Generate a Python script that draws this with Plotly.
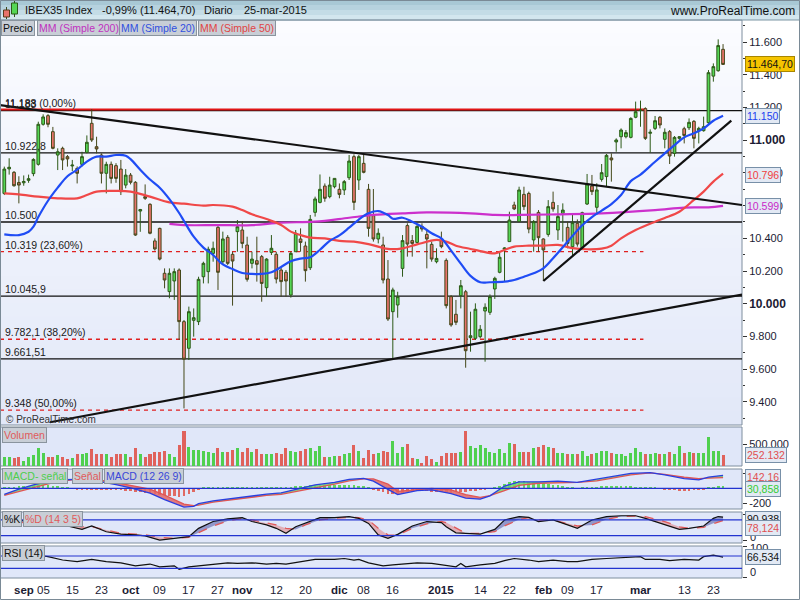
import plotly.graph_objects as go
import pandas as pd

# ---------------- calendar (trading days, BME holidays removed) ----------------
HOLIDAYS = ["2014-12-25", "2014-12-26", "2015-01-01"]
all_days = [d.strftime("%Y-%m-%d") for d in pd.bdate_range("2014-08-26", "2015-03-25")]
dates = [d for d in all_days if d not in HOLIDAYS]

# ---------------- OHLC ----------------
open_ = [
    10675, 10825, 10804, 10742, 10740, 10755, 10796, 10853, 11098, 11151,
    11053, 10910, 10951, 10900, 10843, 10828, 10853, 10926, 11104, 10961,
    10910, 10798, 10853, 10845, 10824, 10726, 10787, 10743, 10567, 10655,
    10608, 10384, 10461, 10186, 10074, 10139, 10206, 9890, 9727, 9898,
    9890, 10165, 10196, 10308, 10467, 10257, 10406, 10302, 10441, 10451,
    10359, 10247, 10263, 10288, 10098, 10314, 10302, 10206, 10192, 10053,
    10318, 10396, 10353, 10220, 10559, 10620, 10720, 10655, 10716, 10700,
    10696, 10771, 10900, 10757, 10859, 10700, 10539, 10396, 10359, 10151,
    9951, 9992, 10216, 10478, 10386, 10375, 10473, 10424, 10363, 10257,
    10386, 10265, 10043, 9935, 10049, 10073, 9792, 9788, 9798, 9955,
    9947, 10090, 10192, 10333, 10380, 10604, 10502, 10669, 10675, 10390,
    10559, 10396, 10424, 10620, 10451, 10553, 10467, 10349, 10492, 10339,
    10610, 10720, 10590, 10761, 10778, 10892, 10990, 11022, 11022, 11018,
    11141, 11183, 11194, 11043, 11073, 11141, 11006, 11053, 10920, 11012,
    11071, 11077, 11116, 11059, 11059, 11108, 11393, 11426, 11557]
high = [
    10839, 10890, 10812, 10780, 10785, 10790, 10890, 11114, 11159, 11160,
    11082, 10951, 10961, 10910, 10880, 10840, 10930, 11030, 11191, 11022,
    10920, 10869, 10870, 10860, 10880, 10824, 10800, 10750, 10580, 10730,
    10615, 10400, 10465, 10216, 10216, 10216, 10216, 9900, 9982, 9971,
    10165, 10257, 10349, 10380, 10481, 10441, 10420, 10318, 10512, 10506,
    10410, 10318, 10410, 10298, 10278, 10420, 10318, 10226, 10206, 10318,
    10451, 10461, 10380, 10543, 10655, 10791, 10736, 10777, 10767, 10736,
    10757, 10910, 10914, 10910, 10910, 10733, 10702, 10461, 10410, 10267,
    10098, 10073, 10420, 10492, 10420, 10481, 10492, 10451, 10380, 10339,
    10441, 10277, 10053, 10023, 10145, 10084, 9951, 10002, 9869, 10002,
    10057, 10165, 10318, 10345, 10563, 10624, 10716, 10716, 10686, 10512,
    10573, 10400, 10634, 10686, 10604, 10614, 10502, 10543, 10516, 10563,
    10794, 10788, 10737, 10855, 10916, 10920, 11012, 11073, 11063, 11141,
    11237, 11243, 11202, 11067, 11149, 11149, 11073, 11063, 11026, 11026,
    11083, 11134, 11124, 11083, 11145, 11430, 11471, 11618, 11589]
low = [
    10665, 10790, 10716, 10614, 10722, 10740, 10780, 10845, 11090, 11080,
    10945, 10818, 10818, 10839, 10812, 10736, 10840, 10920, 10990, 10920,
    10736, 10675, 10736, 10740, 10665, 10706, 10730, 10415, 10440, 10635,
    10425, 10325, 10265, 10094, 10033, 10023, 9778, 9359, 9655, 9798,
    9869, 10124, 10124, 10257, 10084, 10237, 10237, 9988, 10318, 10339,
    10135, 10216, 10135, 10012, 10043, 10298, 10124, 10043, 10043, 10037,
    10318, 10318, 10135, 10206, 10533, 10614, 10624, 10645, 10706, 10645,
    10665, 10757, 10573, 10696, 10798, 10410, 10380, 10369, 10124, 9894,
    9666, 9914, 10165, 10288, 10288, 10369, 10441, 10216, 10257, 10247,
    10339, 9971, 9859, 9869, 9971, 9608, 9706, 9778, 9788, 9645,
    9931, 10029, 10186, 10135, 10380, 10573, 10502, 10573, 10431, 10318,
    10318, 10139, 10410, 10563, 10390, 10380, 10339, 10288, 10349, 10329,
    10604, 10665, 10543, 10747, 10716, 10747, 10930, 10951, 11012, 11012,
    11135, 11083, 11002, 10924, 11063, 11073, 10951, 10855, 10900, 11002,
    10981, 11063, 10951, 10981, 11053, 11094, 11359, 11420, 11461]
close = [
    10824, 10835, 10722, 10726, 10748, 10765, 10883, 11098, 11143, 11098,
    10951, 10930, 10880, 10886, 10848, 10798, 10900, 10988, 11002, 10947,
    10798, 10853, 10767, 10767, 10686, 10787, 10743, 10420, 10576, 10645,
    10431, 10335, 10273, 10145, 10186, 10196, 9890, 9660, 9951, 9914,
    10149, 10247, 10333, 10339, 10192, 10396, 10247, 10261, 10471, 10369,
    10149, 10273, 10241, 10124, 10273, 10339, 10151, 10135, 10139, 10308,
    10431, 10375, 10202, 10516, 10641, 10700, 10645, 10726, 10767, 10669,
    10747, 10873, 10620, 10900, 10804, 10461, 10396, 10431, 10145, 9906,
    10084, 10043, 10386, 10365, 10369, 10473, 10457, 10396, 10273, 10277,
    10349, 9988, 9870, 9886, 10110, 9712, 9804, 9966, 9843, 9978,
    10043, 10155, 10284, 10341, 10512, 10580, 10696, 10594, 10457, 10502,
    10404, 10329, 10594, 10580, 10533, 10573, 10369, 10496, 10365, 10557,
    10733, 10686, 10696, 10802, 10908, 10880, 11002, 11063, 11047, 11134,
    11175, 11185, 11012, 11049, 11120, 11094, 11049, 10904, 11018, 11022,
    11030, 11110, 11012, 11073, 11083, 11414, 11451, 11580, 11464.7]

# volume in thousands
volume_k = [
    212, 212, 175, 212, 114, 197, 250, 417, 288, 197,
    212, 250, 197, 152, 174, 265, 265, 288, 379, 265,
    265, 265, 212, 265, 265, 265, 212, 417, 265, 212,
    265, 326, 326, 341, 265, 212, 477, 795, 439, 364,
    364, 341, 311, 288, 401, 311, 326, 364, 417, 311,
    401, 326, 379, 265, 265, 265, 288, 265, 401, 341,
    326, 348, 379, 417, 341, 455, 212, 212, 227, 227,
    265, 288, 477, 341, 189, 364, 265, 288, 348, 326,
    568, 300, 439, 500, 174, 152, 61, 227, 152, 83,
    227, 288, 288, 288, 311, 795, 455, 401, 477, 401,
    326, 288, 379, 288, 515, 492, 311, 326, 326, 401,
    439, 477, 439, 401, 288, 288, 265, 265, 265, 341,
    227, 265, 288, 341, 341, 288, 265, 265, 227, 288,
    417, 326, 265, 265, 288, 265, 265, 311, 265, 455,
    288, 311, 288, 288, 288, 652, 341, 341, 252.132]

# MACD histogram (MACD - signal), per bar
macd_hist = [
    5, 10, 18, 25, 30, 35, 40, 45, 45, 40,
    32, 25, 15, 8, -5, -10, -12, -12, -15, -15,
    -18, -20, -22, -25, -28, -32, -38, -45, -52, -58,
    -66, -75, -85, -95, -102, -108, -111, -100, -75, -45,
    -15, 5, 10, 12, 14, 15, 15, 15, 14, 13,
    12, 12, 12, 12, 12, 14, 15, 16, 18, 22,
    26, 30, 34, 38, 42, 45, 48, 50, 50, 50,
    48, 45, 40, 35, 28, 15, -10, -30, -50, -70,
    -80, -80, -70, -55, -45, -40, -40, -42, -45, -50,
    -55, -58, -58, -55, -50, -45, -38, -30, -22, -15,
    -8, 10, 30, 55, 80, 95, 98, 95, 90, 80,
    70, 65, 60, 50, 40, 30, 15, 5, -5, 8,
    15, 20, 22, 25, 28, 30, 30, 30, 28, 25,
    22, 20, 15, 10, 5, -5, -12, -20, -28, -31,
    -31, -30, -28, -20, -10, 5, 15, 25, 30.858]

# MACD / signal lines (sampled bars)
macd_x = [0, 3, 6, 9, 12, 15, 18, 21, 23, 26,
          30, 33, 36, 37, 39, 40, 43, 47, 50, 54,
          57, 60, 64, 68, 71, 74, 76, 79, 81, 85,
          88, 92, 95, 98, 100, 103, 106, 110, 114, 118,
          122, 126, 129, 133, 136, 140, 143, 145, 148]
macd_line = [-80, -10, 45, 90, 115, 120, 110, 80, 50, 5,
             -65, -150, -230, -250, -240, -205, -168, -135, -105, -78,
             -60, -15, 44, 80, 120, 133, 95, -15, -85, -30,
             -22, -70, -130, -145, -100, 30, 85, 85, 95, 78,
             118, 160, 198, 208, 180, 130, 112, 150, 173]
signal_line = [-95, -40, 15, 60, 95, 122, 115, 100, 75, 40,
               -10, -90, -180, -210, -230, -225, -185, -150, -125, -95,
               -80, -45, 10, 55, 100, 125, 125, 55, -40, -13,
               0, -20, -85, -120, -98, -30, 40, 67, 75, 80,
               100, 145, 180, 205, 186, 150, 128, 135, 142.16]

# Stochastic %K / %D (sampled bars)
stoch_x = [0, 3, 6, 9, 12, 13, 16, 18, 21, 24,
           27, 29, 32, 35, 38, 40, 43, 46, 49, 51,
           54, 56, 58, 60, 62, 65, 68, 71, 73, 75,
           77, 79, 81, 84, 87, 90, 91, 93, 95, 98,
           101, 103, 106, 108, 110, 113, 116, 118, 121, 124,
           127, 130, 132, 136, 139, 141, 144, 146, 147, 148]
stoch_k = [60, 75, 85, 80, 60, 57, 44, 57, 35, 26,
           23, 19, 3, 10, 16, 48, 74, 84, 89, 74,
           61, 48, 29, 54, 67, 89, 89, 93, 86, 67,
           23, 10, 25, 57, 74, 70, 54, 31, 29, 26,
           44, 80, 93, 90, 74, 80, 61, 48, 80, 93,
           96, 96, 86, 61, 44, 48, 57, 86, 93, 90.9]
stoch_d = [55, 68, 80, 82, 65, 61, 54, 54, 42, 29,
           26, 23, 14, 10, 14, 31, 57, 76, 86, 80,
           67, 61, 48, 44, 61, 80, 86, 90, 89, 80,
           48, 23, 22, 48, 65, 74, 70, 48, 29, 29,
           35, 57, 82, 89, 80, 80, 67, 57, 61, 82,
           93, 95, 93, 74, 54, 48, 52, 67, 72, 78.124]

# RSI(14) (sampled bars)
rsi_x = [0, 4, 8, 9, 12, 15, 18, 21, 24, 27,
         30, 32, 35, 36, 38, 42, 46, 48, 51, 54,
         56, 58, 61, 64, 68, 70, 72, 73, 75, 78,
         80, 82, 85, 88, 92, 93, 94, 95, 98, 101,
         103, 105, 108, 110, 113, 116, 118, 121, 124, 128,
         131, 132, 135, 137, 140, 143, 144, 146, 147, 148]
rsi_vals = [57, 57, 70, 68, 57, 52, 59, 52, 48, 38,
            44, 35, 38, 27, 35, 41, 48, 46, 48, 44,
            46, 44, 52, 59, 59, 62, 57, 59, 48, 38,
            41, 44, 48, 46, 38, 35, 46, 35, 41, 46,
            55, 62, 57, 52, 57, 52, 52, 59, 62, 66,
            68, 59, 59, 55, 59, 57, 68, 73, 70, 66.534]

# Moving averages (sampled bars)
ma20_x = [0, 3, 5, 6, 7, 9, 11, 13, 15, 17,
          19, 21, 23, 25, 26, 28, 30, 32, 34, 36,
          37, 39, 41, 43, 45, 47, 49, 51, 53, 55,
          57, 59, 61, 63, 65, 67, 69, 71, 73, 75,
          77, 79, 80, 82, 84, 86, 88, 90, 92, 94,
          96, 98, 100, 103, 105, 107, 109, 111, 113, 115,
          117, 119, 121, 123, 125, 127, 129, 131, 134, 136,
          138, 140, 142, 144, 146, 148]
ma20 = [10424, 10420, 10440, 10471, 10530, 10630, 10710, 10780, 10820, 10870,
        10900, 10900, 10910, 10906, 10885, 10820, 10760, 10710, 10640, 10555,
        10506, 10410, 10343, 10298, 10240, 10212, 10188, 10182, 10182, 10192,
        10225, 10260, 10276, 10284, 10330, 10385, 10418, 10465, 10515, 10553,
        10567, 10543, 10520, 10526, 10502, 10471, 10431, 10400, 10325, 10245,
        10170, 10131, 10131, 10135, 10145, 10165, 10186, 10216, 10278, 10345,
        10415, 10480, 10530, 10570, 10610, 10665, 10750, 10790, 10869, 10920,
        10971, 11018, 11043, 11073, 11120, 11150]
ma50_x = [0, 3, 7, 11, 15, 17, 19, 23, 26, 30,
          34, 37, 41, 43, 47, 49, 51, 54, 57, 59,
          61, 63, 66, 69, 72, 75, 79, 82, 85, 89,
          91, 93, 96, 98, 101, 103, 105, 108, 111, 114,
          117, 120, 123, 125, 127, 130, 134, 136, 139, 142,
          144, 146, 148]
ma50 = [10675, 10669, 10655, 10645, 10645, 10665, 10686, 10690, 10686, 10655,
        10620, 10612, 10600, 10604, 10594, 10573, 10547, 10518, 10482, 10441,
        10420, 10404, 10400, 10384, 10380, 10365, 10335, 10339, 10363, 10390,
        10380, 10355, 10335, 10322, 10308, 10329, 10349, 10355, 10355, 10360,
        10340, 10333, 10337, 10355, 10400, 10451, 10502, 10525, 10563, 10635,
        10686, 10747, 10796]
ma200_x = [34, 37, 44, 51, 57, 64, 71, 76, 82, 87, 96, 101, 106, 114, 123, 134, 140, 145, 148]
ma200 = [10488, 10481, 10481, 10481, 10496, 10502, 10526, 10543, 10553, 10559,
         10553, 10543, 10543, 10547, 10553, 10573, 10588, 10590, 10599]

# X tick labels
tick_dates = ["2014-09-01", "2014-09-05", "2014-09-15", "2014-09-23", "2014-10-01",
              "2014-10-09", "2014-10-17", "2014-10-27", "2014-11-03", "2014-11-12",
              "2014-11-20", "2014-12-01", "2014-12-08", "2014-12-16", "2015-01-02",
              "2015-01-14", "2015-01-22", "2015-02-02", "2015-02-09", "2015-02-17",
              "2015-03-02", "2015-03-13", "2015-03-23"]
tick_labels = ["<b>sep</b>", "05", "15", "23", "<b>oct</b>", "09", "17", "27", "<b>nov</b>",
               "12", "20", "<b>dic</b>", "08", "16", "<b>2015</b>", "14", "22", "<b>feb</b>",
               "09", "17", "<b>mar</b>", "13", "23"]

price_ticks = [9400, 9600, 9800, 10000, 10200, 10400, 10600, 10800, 11000, 11200, 11400, 11600]
price_tick_labels = ["9.400", "9.600", "9.800", "<b><span style='font-size:12px'>10.000</span></b>",
                     "10.200", "10.400", "10.600", "10.800",
                     "<b><span style='font-size:12px'>11.000</span></b>", "11.200", "11.400", "11.600"]

# Horizontal levels
black_levels = [11182, 10922.8, 10500, 10045.9, 9661.51]
fib_levels = [10319, 9782.1, 9348]
fib_top = 11188
level_label_prices = [11182, 11188, 10922.8, 10500, 10319, 10045.9, 9782.1, 9661.51, 9348]
level_label_texts = ["11.183", "11.188 (0,00%)", "10.922,8", "10.500", "10.319 (23,60%)",
                     "10.045,9", "9.782,1 (38,20%)", "9.661,51", "9.348 (50,00%)"]

# Trend lines (bar position, price)
trend_lines = [
    ((-0.886, 11216), (151.9, 10604)),
    ((9.41, 9274), (151.9, 10056)),
    ((111, 10139), (149.7, 11120)),
]

# ---------------- geometry helpers ----------------
PLOT_W = 742.0
TOP_PX, BOT_PX = 20.0, 578.0


def fx(px):
    return px / PLOT_W


def fy(py):
    return (BOT_PX - py) / (BOT_PX - TOP_PX)


def hexmix(c0, c1, t):
    a = [int(c0[i:i + 2], 16) for i in (1, 3, 5)]
    b = [int(c1[i:i + 2], 16) for i in (1, 3, 5)]
    return "#%02x%02x%02x" % tuple(int(round(a[k] + (b[k] - a[k]) * t)) for k in range(3))


def band_runs(xs, a, b):
    runs = []
    cur = None
    for k in range(len(xs)):
        s = a[k] >= b[k]
        if cur is None:
            cur = [s, [xs[k]], [a[k]], [b[k]]]
            continue
        if s != cur[0]:
            d0 = a[k - 1] - b[k - 1]
            d1 = a[k] - b[k]
            t = d0 / (d0 - d1)
            xc = xs[k - 1] + t * (xs[k] - xs[k - 1])
            yc = a[k - 1] + t * (a[k] - a[k - 1])
            cur[1].append(xc); cur[2].append(yc); cur[3].append(yc)
            runs.append(cur)
            cur = [s, [xc], [yc], [yc]]
        cur[1].append(xs[k]); cur[2].append(a[k]); cur[3].append(b[k])
    runs.append(cur)
    return runs


n = len(dates)
idx = list(range(n))
pos = {d: i for i, d in enumerate(dates)}

GREEN = "#55d655"
RED = "#e8736b"

fig = go.Figure()

# ---------------- main panel ----------------
fig.add_trace(go.Candlestick(
    x=idx, open=open_, high=high, low=low, close=close, xaxis="x", yaxis="y",
    increasing=dict(fillcolor=GREEN, line=dict(color="#2d5a18", width=1)),
    decreasing=dict(fillcolor=RED, line=dict(color="#44481a", width=1)),
    whiskerwidth=0, showlegend=False, hoverinfo="skip"))

fig.add_trace(go.Scatter(x=ma200_x, y=ma200, mode="lines", yaxis="y",
                         line=dict(color="#cc30cc", width=2.2, shape="spline"), hoverinfo="skip"))
fig.add_trace(go.Scatter(x=ma50_x, y=ma50, mode="lines", yaxis="y",
                         line=dict(color="#f04848", width=2.2, shape="spline"), hoverinfo="skip"))
fig.add_trace(go.Scatter(x=ma20_x, y=ma20, mode="lines", yaxis="y",
                         line=dict(color="#1f4cf5", width=2.2, shape="spline"), hoverinfo="skip"))

# ---------------- volume ----------------
vol_colors = ["#4fd04f" if c >= o else "#e0625c" for o, c in zip(open_, close)]
fig.add_trace(go.Bar(x=idx, y=volume_k, yaxis="y2", width=0.62,
                     marker=dict(color=vol_colors, line=dict(width=0)), hoverinfo="skip"))

# ---------------- MACD ----------------
hist_colors = ["#5fd85f" if v >= 0 else "#e06a64" for v in macd_hist]
fig.add_trace(go.Bar(x=idx, y=macd_hist, yaxis="y3", width=0.55,
                     marker=dict(color=hist_colors, line=dict(width=0)), hoverinfo="skip"))
for s, rx, ra, rb in band_runs(macd_x, macd_line, signal_line):
    fig.add_trace(go.Scatter(x=rx + rx[::-1], y=ra + rb[::-1], yaxis="y3", mode="lines",
                             fill="toself",
                             fillcolor="rgba(110,215,110,0.85)" if s else "rgba(225,105,105,0.85)",
                             line=dict(width=0), hoverinfo="skip"))
fig.add_trace(go.Scatter(x=macd_x, y=signal_line, yaxis="y3", mode="lines",
                         line=dict(color="#e05555", width=1.3), hoverinfo="skip"))
fig.add_trace(go.Scatter(x=macd_x, y=macd_line, yaxis="y3", mode="lines",
                         line=dict(color="#2a3ee0", width=1.3), hoverinfo="skip"))

# ---------------- Stochastic ----------------
for s, rx, ra, rb in band_runs(stoch_x, stoch_k, stoch_d):
    fig.add_trace(go.Scatter(x=rx + rx[::-1], y=ra + rb[::-1], yaxis="y4", mode="lines",
                             fill="toself",
                             fillcolor="rgba(80,85,165,0.55)" if s else "rgba(225,120,120,0.5)",
                             line=dict(width=0), hoverinfo="skip"))
fig.add_trace(go.Scatter(x=stoch_x, y=stoch_d, yaxis="y4", mode="lines",
                         line=dict(color="#e05a5a", width=1.3, dash="dash"), hoverinfo="skip"))
fig.add_trace(go.Scatter(x=stoch_x, y=stoch_k, yaxis="y4", mode="lines",
                         line=dict(color="#111111", width=1.2), hoverinfo="skip"))

# ---------------- RSI ----------------
fig.add_trace(go.Scatter(x=rsi_x, y=rsi_vals, yaxis="y5", mode="lines",
                         line=dict(color="#111111", width=1.2), hoverinfo="skip"))

# ---------------- shapes ----------------
shapes = []
# header
hdr_cols = ["#d3e6ee", "#c4dce6", "#b6d2de", "#a8c8d5"]
for k, c in enumerate(hdr_cols):
    shapes.append(dict(type="rect", xref="paper", yref="paper", x0=-0.01, x1=fx(801),
                       y0=fy(20 - 5 * k), y1=fy(15 - 5 * k), fillcolor=c, line=dict(width=0),
                       layer="below"))
shapes.append(dict(type="line", xref="paper", yref="paper", x0=0, x1=fx(800),
                   y0=fy(20), y1=fy(20), line=dict(color="#7d96a4", width=1)))
# header icon
shapes += [
    dict(type="line", xref="paper", yref="paper", x0=fx(6.5), x1=fx(6.5), y0=fy(19), y1=fy(7),
         line=dict(color="#3a4a1a", width=1)),
    dict(type="rect", xref="paper", yref="paper", x0=fx(3.5), x1=fx(9.5), y0=fy(17), y1=fy(10),
         fillcolor=RED, line=dict(color="#5a3a1a", width=1)),
    dict(type="line", xref="paper", yref="paper", x0=fx(14.5), x1=fx(14.5), y0=fy(17), y1=fy(1),
         line=dict(color="#2d5a18", width=1)),
    dict(type="rect", xref="paper", yref="paper", x0=fx(11.5), x1=fx(17.5), y0=fy(14), y1=fy(3),
         fillcolor=GREEN, line=dict(color="#2d5a18", width=1)),
]
# main gradient background
NB = 30
for k in range(NB):
    shapes.append(dict(type="rect", xref="x domain", yref="y domain", x0=0, x1=1,
                       y0=1 - (k + 1) / NB, y1=1 - k / NB + 0.002,
                       fillcolor=hexmix("#fbfcff", "#e2e8f8", (k + 0.5) / NB),
                       line=dict(width=0), layer="below"))
shapes.append(dict(type="rect", xref="x domain", yref="y domain", x0=0, x1=1, y0=0, y1=1,
                   line=dict(color="#7f8e9e", width=1), layer="below"))
for ax in ["y2", "y3", "y4", "y5"]:
    shapes.append(dict(type="rect", xref="x domain", yref=ax + " domain", x0=0, x1=1, y0=0, y1=1,
                       fillcolor="#e0e7f9", line=dict(color="#7f8e9e", width=1), layer="below"))
# level lines
for p in black_levels:
    shapes.append(dict(type="line", xref="x domain", yref="y", x0=0, x1=1, y0=p, y1=p,
                       line=dict(color="#111111", width=1.3), layer="below"))
shapes.append(dict(type="line", xref="x", yref="y", x0=-0.886, x1=131.9, y0=fib_top, y1=fib_top,
                   line=dict(color="#e01515", width=2), layer="below"))
for p in fib_levels:
    shapes.append(dict(type="line", xref="x", yref="y", x0=-0.886, x1=131.6, y0=p, y1=p,
                       line=dict(color="#e02020", width=1.3, dash="4px,4px"), layer="below"))
# trend lines
for (x0, p0), (x1, p1) in trend_lines:
    shapes.append(dict(type="line", xref="x", yref="y", x0=x0, y0=p0, x1=x1, y1=p1,
                       line=dict(color="#111111", width=2.2)))
# indicator reference lines
for ax, vals in [("y3", [0]), ("y4", [20, 80]), ("y5", [30, 70])]:
    for v in vals:
        shapes.append(dict(type="line", xref="x domain", yref=ax, x0=0, x1=1, y0=v, y1=v,
                           line=dict(color="#2233d0", width=1.2)))
# outer frame
shapes.append(dict(type="rect", xref="paper", yref="paper", x0=fx(0.5), x1=fx(799.5),
                   y0=fy(599.5), y1=fy(0.5), line=dict(color="#7a8a96", width=1)))

# ---------------- annotations ----------------
ann = []


def txt(x, y, text, color="#111111", size=10.5, xanchor="left", bg=None, border=None, yref="paper",
        yanchor="middle", pad=1, xref="paper"):
    d = dict(x=x, y=y, xref=xref, yref=yref, text=text, showarrow=False, xanchor=xanchor,
             yanchor=yanchor, font=dict(size=size, color=color), borderpad=pad)
    if bg:
        d["bgcolor"] = bg
    if border:
        d["bordercolor"] = border
        d["borderwidth"] = 1
    ann.append(d)


# header
txt(fx(23), fy(10), "IBEX35 Index", size=11)
txt(fx(100), fy(10), "-0,99% (11.464,70)", size=11)
txt(fx(202), fy(10), "Diario", size=11)
txt(fx(242), fy(10), "25-mar-2015", size=11)
txt(fx(797), fy(11), "www.ProRealTime.com", size=12, xanchor="right")

TAB_BG, TAB_BD = "#c8ced6", "#8a949e"
txt(fx(1), fy(28.5), "Precio", "#111111", bg=TAB_BG, border=TAB_BD)
txt(fx(37), fy(28.5), "MM (Simple 200)", "#c030c0", bg=TAB_BG, border=TAB_BD)
txt(fx(119), fy(28.5), "MM (Simple 20)", "#3050e0", bg=TAB_BG, border=TAB_BD)
txt(fx(198), fy(28.5), "MM (Simple 50)", "#e04545", bg=TAB_BG, border=TAB_BD)

txt(fx(2), fy(435), "Volumen", "#e05a5a", bg=TAB_BG, border=TAB_BD)
txt(fx(2), fy(476), "MACD- señal", "#4ccf4c", bg=TAB_BG, border=TAB_BD)
txt(fx(72), fy(476), "Señal", "#e05a5a", bg=TAB_BG, border=TAB_BD)
txt(fx(104), fy(476), "MACD (12 26 9)", "#3a48d8", bg=TAB_BG, border=TAB_BD)
txt(fx(2), fy(519), "%K", "#111111", bg=TAB_BG, border=TAB_BD)
txt(fx(23), fy(519), "%D (14 3 5)", "#e05a5a", bg=TAB_BG, border=TAB_BD)
txt(fx(2), fy(552.5), "RSI (14)", "#111111", bg=TAB_BG, border=TAB_BD)

txt(fx(4), fy(419), "© ProRealTime.com", "#333333", size=10)

for p, t in zip(level_label_prices, level_label_texts):
    txt(fx(4), p, t, "#1a1a1a", yref="y", yanchor="bottom", pad=0)

# x-axis tick labels
for d, t in zip(tick_dates, tick_labels):
    txt(pos[d], fy(590), t, "#1b1b33", size=11.5, xanchor="center", xref="x")

# small-panel axis labels
txt(fx(748), fy(536.7), "0", "#1b1b33", size=11)
txt(fx(748), fy(547.5), "100", "#1b1b33", size=11)
txt(fx(748), fy(571.5), "0", "#1b1b33", size=11)

# value boxes
BOX_BG, BOX_BD = "#e2e9f4", "#7890a8"
txt(fx(745), fy(64), "11.464,70", "#111111", bg="#f5c400", border="#a88600")
txt(fx(745), fy(116), "11.150", "#2040f0", bg=BOX_BG, border=BOX_BD)
txt(fx(745), fy(174.7), "10.796", "#f04040", bg=BOX_BG, border=BOX_BD)
txt(fx(745), fy(205.5), "10.599", "#c828c8", bg=BOX_BG, border=BOX_BD)
txt(fx(745), fy(454.5), "252.132", "#e05050", bg=BOX_BG, border=BOX_BD)
txt(fx(745), fy(476.7), "142,16", "#e05050", bg=BOX_BG, border=BOX_BD)
txt(fx(745), fy(489.3), "30,858", "#33cc33", bg=BOX_BG, border=BOX_BD)
txt(fx(745), fy(519), "90,938", "#111111", bg=BOX_BG, border=BOX_BD)
txt(fx(745), fy(527.5), "78,124", "#e05050", bg=BOX_BG, border=BOX_BD)
txt(fx(745), fy(557), "66,534", "#111111", bg=BOX_BG, border=BOX_BD)

# ---------------- layout ----------------
ycommon = dict(side="right", anchor="x", showgrid=False, zeroline=False, showline=False,
               ticks="outside", ticklen=4, tickcolor="#333333", tickfont=dict(size=11),
               fixedrange=True, automargin=False)

fig.update_layout(
    width=800, height=600,
    margin=dict(l=0, r=58, t=20, b=22, autoexpand=False),
    paper_bgcolor="white", plot_bgcolor="rgba(0,0,0,0)",
    font=dict(family="Liberation Sans, Arial, sans-serif", size=10.5, color="#1b1b33"),
    showlegend=False, hovermode=False, boxgap=0.2, bargap=0,
    xaxis=dict(domain=[0, 1], range=[-0.886, 151.9], anchor="y5", showgrid=False,
               zeroline=False, showline=False, showticklabels=False, ticks="",
               rangeslider=dict(visible=False), fixedrange=True, automargin=False),
    yaxis=dict(domain=[fy(425), fy(20)], range=[9257.3, 11736.5], tickvals=price_ticks,
               ticktext=price_tick_labels,
               minor=dict(ticks="outside", ticklen=2, dtick=100, tick0=0, tickcolor="#333333"),
               **ycommon),
    yaxis2=dict(domain=[fy(466), fy(427)], range=[0, 886.4], tickvals=[500],
                ticktext=["500.000"], **ycommon),
    yaxis3=dict(domain=[fy(509), fy(469)], range=[-276, 257], tickvals=[-200, 200],
                ticktext=["-200", "200"], **ycommon),
    yaxis4=dict(domain=[fy(543), fy(512)], range=[-8, 110.4], tickvals=[0, 100],
                ticktext=["", ""], **ycommon),
    yaxis5=dict(domain=[fy(578), fy(546)], range=[-1.3, 102.5], tickvals=[0, 100],
                ticktext=["", ""], **ycommon),
    shapes=shapes,
    annotations=ann,
)

fig.write_html("out.html", config={"displayModeBar": False},
               post_script="document.body.style.margin='0px';document.body.style.padding='0px';"
                           "document.body.style.overflow='hidden';")
